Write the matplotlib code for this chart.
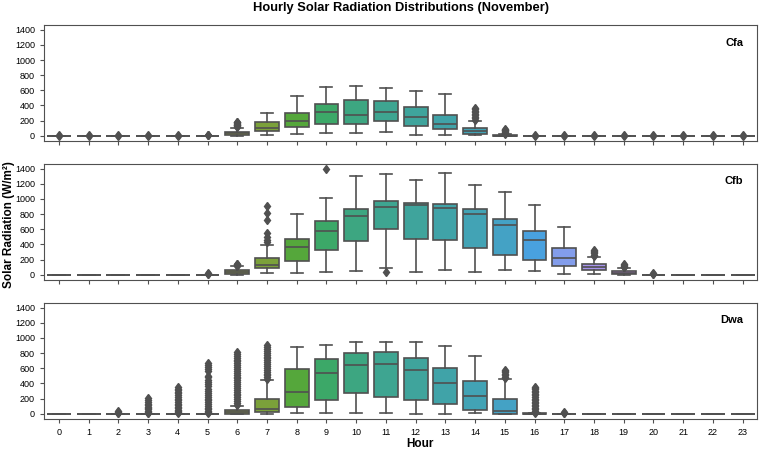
import matplotlib
matplotlib.use('Agg')
import matplotlib.pyplot as plt
import seaborn as sns

plt.rcParams['font.family'] = ['Liberation Sans', 'DejaVu Sans']

hours = list(range(24))
climates = ['Cfa', 'Cfb', 'Dwa']

# [whislo, q1, med, q3, whishi] per hour
Z = [0, 0, 0, 0, 0]
cfa_stats = [Z] * 6 + [
    [0, 4, 31, 50, 105],
    [13, 57, 108, 179, 300],
    [22, 113, 199, 303, 519],
    [35, 153, 310, 419, 641],
    [39, 161, 279, 473, 652],
    [48, 198, 308, 458, 628],
    [9, 133, 242, 384, 589],
    [9, 83, 153, 275, 545],
    [9, 22, 57, 100, 200],
    [0, 0, 2, 8, 18],
] + [Z] * 8
cfb_stats = [Z] * 6 + [
    [0, 6, 37, 61, 112],
    [24, 85, 129, 216, 398],
    [17, 181, 363, 468, 800],
    [31, 328, 582, 715, 1013],
    [48, 448, 776, 870, 1304],
    [85, 610, 892, 976, 1326],
    [31, 468, 919, 945, 1256],
    [57, 455, 875, 932, 1339],
    [39, 354, 805, 866, 1186],
    [66, 258, 656, 735, 1094],
    [44, 197, 455, 578, 914],
    [13, 114, 223, 346, 634],
    [13, 61, 101, 140, 236],
    [0, 13, 26, 44, 83],
] + [Z] * 4
dwa_stats = [Z] * 6 + [
    [0, 0, 26, 48, 105],
    [0, 22, 66, 195, 440],
    [4, 88, 289, 587, 876],
    [4, 184, 543, 727, 907],
    [9, 272, 644, 802, 946],
    [9, 223, 653, 815, 946],
    [0, 175, 574, 731, 942],
    [0, 127, 407, 604, 898],
    [4, 44, 232, 429, 758],
    [0, 0, 39, 193, 462],
    [0, 0, 0, 4, 9],
] + [Z] * 7

# outliers by hour
cfa_fliers = {0: [2, 5], 1: [2, 5], 2: [2, 5], 3: [2, 5], 4: [2, 5],
              5: [3, 8, 15],
              6: [115, 125, 135, 145, 155, 165, 175, 185],
              14: [210, 230, 250, 270, 290, 310, 330, 350, 365],
              15: [22, 30, 40, 50, 60, 70, 80, 95],
              16: [2, 5], 17: [2, 5], 18: [2, 5], 19: [2, 5],
              20: [2, 5], 21: [2, 5], 22: [2, 5], 23: [2, 5]}
cfb_fliers = {5: [5, 10, 18],
              6: [120, 128, 136, 145],
              7: [433, 464, 499, 556, 726, 818, 906],
              9: [1391],
              11: [39],
              18: [250, 265, 280, 295, 310, 330],
              19: [95, 105, 115, 125, 140],
              20: [5, 10, 20]}
dwa_fliers = {2: [5, 12, 20, 31],
              3: [5, 15, 25, 40, 57, 75, 92, 110, 127, 150, 175, 206],
              4: [5, 20, 35, 50, 70, 90, 110, 130, 150, 175, 200, 225,
                  250, 270, 290, 310, 330, 346],
              5: [5, 20, 40, 60, 80, 100, 125, 150, 175, 200, 225, 250,
                  275, 300, 330, 360, 390, 420, 450, 480, 500, 560, 590,
                  620, 645, 670],
              6: [115, 140, 165, 190, 215, 240, 265, 290, 315, 340, 365,
                  390, 415, 440, 465, 490, 515, 540, 565, 590, 615, 640,
                  665, 690, 715, 740, 765, 790, 815],
              7: [455, 480, 505, 530, 555, 580, 605, 630, 655, 680, 705,
                  730, 755, 780, 805, 830, 855, 880, 902],
              15: [470, 490, 510, 530, 550, 570, 583],
              16: [12, 25, 40, 60, 80, 100, 120, 140, 160, 180, 200, 220,
                   240, 260, 280, 300, 320, 340, 350],
              17: [5, 12, 20]}

all_stats = [cfa_stats, cfb_stats, dwa_stats]
all_fliers = [cfa_fliers, cfb_fliers, dwa_fliers]

pal = [sns.desaturate(c, 0.85) for c in sns.husl_palette(24)]
gray = '#505050'

fig, axes = plt.subplots(3, 1, figsize=(7.59, 4.49), dpi=100,
                         sharex=True, sharey=True)
fig.subplots_adjust(left=0.058, right=0.998, top=0.944, bottom=0.067,
                    hspace=0.2)

for ax, name, stats, fl in zip(axes, climates, all_stats, all_fliers):
    bxp_stats = []
    for h in hours:
        lo, q1, med, q3, hi = stats[h]
        bxp_stats.append(dict(whislo=lo, q1=q1, med=med, q3=q3, whishi=hi,
                              fliers=fl.get(h, [])))
    bp = ax.bxp(bxp_stats, positions=hours, widths=0.8, patch_artist=True,
                boxprops=dict(edgecolor=gray, linewidth=1.2),
                medianprops=dict(color=gray, linewidth=1.2),
                whiskerprops=dict(color=gray, linewidth=1.2),
                capprops=dict(color=gray, linewidth=1.2),
                flierprops=dict(marker='d', markerfacecolor=gray,
                                markeredgecolor=gray, markersize=4.5,
                                linestyle='none'))
    for patch, c in zip(bp['boxes'], pal):
        patch.set_facecolor(c)
    ax.text(0.98, 0.85, name, transform=ax.transAxes, ha='right',
            va='center', fontsize=8, fontweight='bold')
    ax.tick_params(labelsize=6.5, length=3, color=gray)
    for sp in ax.spines.values():
        sp.set_color(gray)

axes[0].set_xlim(-0.5, 23.5)
axes[0].set_yticks(range(0, 1401, 200))
axes[-1].set_xticks(hours)
axes[-1].set_xticklabels([str(h) for h in hours])

fig.suptitle('Hourly Solar Radiation Distributions (November)',
             x=0.528, y=0.995, va='top', fontsize=9.3, fontweight='bold')
fig.text(0.012, 0.5, 'Solar Radiation (W/m²)', rotation=90, ha='center',
         va='center', fontsize=8.5, fontweight='bold')
fig.text(0.553, 0.012, 'Hour', ha='center', va='center', fontsize=8.5,
         fontweight='bold')

plt.savefig('out.png', dpi=100)
